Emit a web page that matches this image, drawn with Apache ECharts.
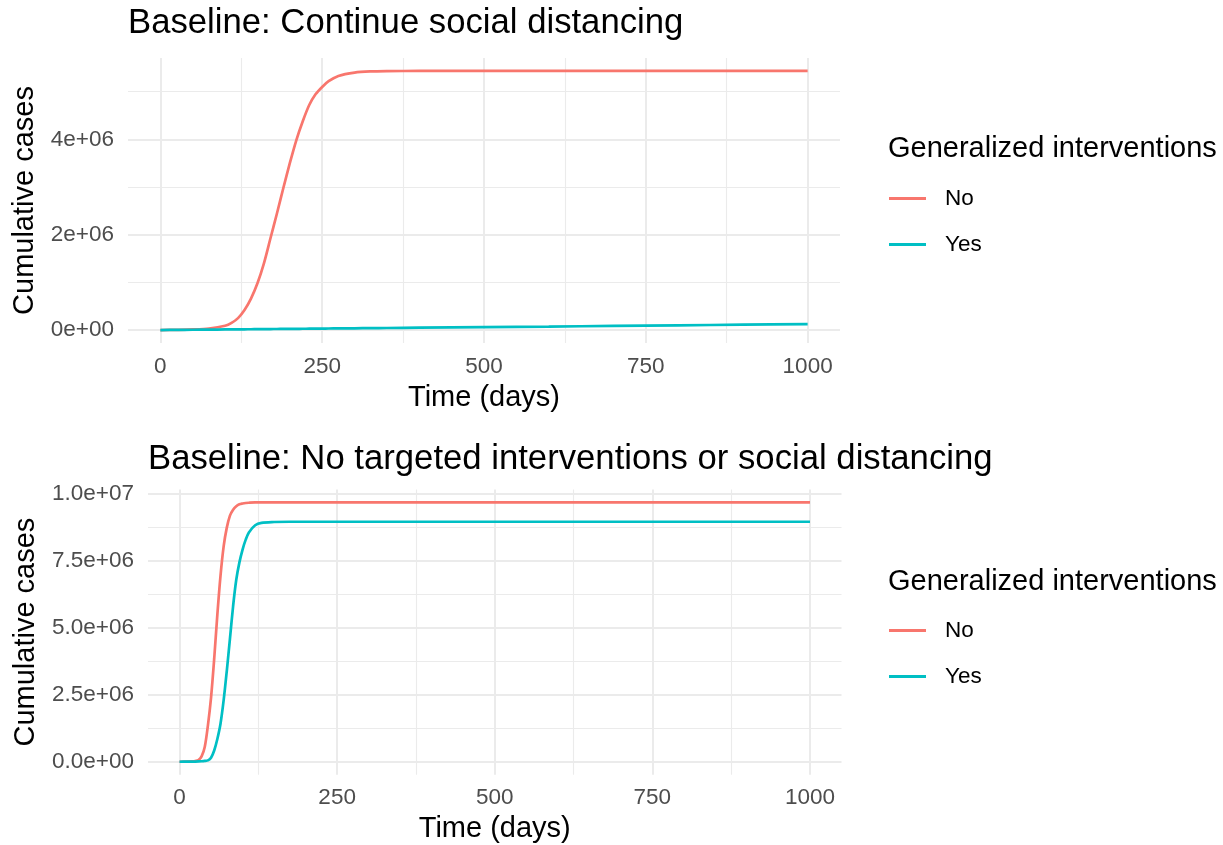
<!DOCTYPE html>
<html><head><meta charset="utf-8">
<script src="https://cdn.jsdelivr.net/npm/echarts@6/dist/echarts.min.js"></script>
<style>html,body{margin:0;padding:0;background:#fff}#c{width:1223px;height:845px}</style>
</head><body><div id="c"></div>
<script>
const FONT = '"Liberation Sans", Arial, Helvetica, sans-serif';
const panelTitles = ['Baseline: Continue social distancing', 'Baseline: No targeted interventions or social distancing'];
const legendTitle = 'Generalized interventions';
const xTitle = 'Time (days)';
const yTitle = 'Cumulative cases';
const groups = ['No', 'Yes'];
const colors = ['#F8766D', '#00BFC4'];

const xTicks = [0, 250, 500, 750, 1000];
const xTickLabels = ['0', '250', '500', '750', '1000'];
const xMinorTicks = [125, 375, 625, 875];

const topYTicks = [0, 2e6, 4e6];
const topYTickLabels = ['0e+00', '2e+06', '4e+06'];
const topYMinorTicks = [1e6, 3e6, 5e6];

const botYTicks = [0, 2.5e6, 5e6, 7.5e6, 1e7];
const botYTickLabels = ['0.0e+00', '2.5e+06', '5.0e+06', '7.5e+06', '1.0e+07'];
const botYMinorTicks = [1.25e6, 3.75e6, 6.25e6, 8.75e6];

// Panel 1: Continue social distancing (values in millions of cases)
const topDays = [0, 25, 50, 75, 100, 110, 120, 130, 140, 150, 160, 170, 180, 190, 200, 210, 220, 230, 240, 250, 260, 275, 300, 325, 350, 400, 500, 600, 700, 800, 900, 1000];
const topNoMillions = [0.0, 0.004, 0.012, 0.032, 0.09, 0.15, 0.25, 0.42, 0.66, 0.98, 1.40, 1.92, 2.44, 2.98, 3.50, 3.98, 4.38, 4.72, 4.95, 5.10, 5.22, 5.33, 5.40, 5.425, 5.432, 5.435, 5.435, 5.435, 5.435, 5.435, 5.435, 5.435];
const topYesMillions = [0.0, 0.003, 0.006, 0.009, 0.012, 0.013, 0.014, 0.016, 0.017, 0.018, 0.019, 0.021, 0.022, 0.023, 0.024, 0.026, 0.027, 0.028, 0.029, 0.031, 0.032, 0.034, 0.037, 0.040, 0.043, 0.049, 0.061, 0.073, 0.086, 0.099, 0.112, 0.126];

// Panel 2: No targeted interventions or social distancing (millions)
const botDays = [0, 10, 20, 25, 30, 35, 40, 45, 50, 55, 60, 65, 70, 75, 80, 85, 90, 95, 100, 105, 110, 120, 130, 150, 175, 200, 300, 400, 500, 600, 700, 800, 900, 1000];
const botNoMillions = [0, 0.002, 0.01, 0.025, 0.06, 0.2, 0.55, 1.35, 2.4, 3.85, 5.5, 6.95, 8.05, 8.75, 9.2, 9.42, 9.55, 9.62, 9.65, 9.67, 9.68, 9.69, 9.69, 9.69, 9.69, 9.69, 9.69, 9.69, 9.69, 9.69, 9.69, 9.69, 9.69, 9.69];
const botYesMillions = [0, 0.001, 0.003, 0.005, 0.01, 0.018, 0.03, 0.05, 0.15, 0.42, 0.85, 1.42, 2.3, 3.4, 4.6, 5.82, 6.8, 7.45, 7.93, 8.3, 8.57, 8.84, 8.93, 8.96, 8.97, 8.97, 8.97, 8.97, 8.97, 8.97, 8.97, 8.97, 8.97, 8.97];

function pairs(days, vals) { return days.map((d, i) => [d, vals[i] * 1e6]); }
function expand(arrs) {
  let lo = Infinity, hi = -Infinity;
  arrs.forEach(a => a.forEach(v => { lo = Math.min(lo, v); hi = Math.max(hi, v); }));
  const p = (hi - lo) * 0.05; return [lo - p, hi + p];
}
function labelFor(ticks, labels) {
  return v => { let best = 0; ticks.forEach((t, i) => { if (Math.abs(t - v) < Math.abs(ticks[best] - v)) best = i; }); return labels[best]; };
}

const xr1 = expand([topDays]);
const xr2 = expand([botDays]);
const yr1 = expand([topNoMillions.map(v => v * 1e6), topYesMillions.map(v => v * 1e6)]);
const yr2 = expand([botNoMillions.map(v => v * 1e6), botYesMillions.map(v => v * 1e6)]);

const GRID = '#EBEBEB';
const tickColor = '#4D4D4D';

function xMajor(g, r) {
  return { type: 'value', gridIndex: g, min: r[0], max: r[1], position: 'bottom',
    name: xTitle, nameLocation: 'middle', nameGap: 40,
    nameTextStyle: { fontSize: 29, color: '#000', fontFamily: FONT },
    axisLine: { show: false }, axisTick: { show: false, customValues: xTicks },
    axisLabel: { customValues: xTicks, formatter: labelFor(xTicks, xTickLabels), fontSize: 22.5, color: tickColor, fontFamily: FONT, margin: 12 },
    splitLine: { show: true, lineStyle: { color: GRID, width: 2 } } };
}
function xMinor(g, r) {
  return { type: 'value', gridIndex: g, min: r[0], max: r[1], position: 'top',
    axisLine: { show: false }, axisTick: { show: false, customValues: xMinorTicks },
    axisLabel: { show: false, customValues: xMinorTicks },
    splitLine: { show: true, lineStyle: { color: GRID, width: 1.1 } } };
}
function yMajor(g, r, ticks, labels, gap) {
  return { type: 'value', gridIndex: g, min: r[0], max: r[1], position: 'left',
    name: yTitle, nameLocation: 'middle', nameGap: gap,
    nameTextStyle: { fontSize: 29, color: '#000', fontFamily: FONT },
    axisLine: { show: false }, axisTick: { show: false, customValues: ticks },
    axisLabel: { customValues: ticks, formatter: labelFor(ticks, labels), fontSize: 22.5, color: tickColor, fontFamily: FONT, margin: 14 },
    splitLine: { show: true, lineStyle: { color: GRID, width: 2 } } };
}
function yMinor(g, r, ticks) {
  return { type: 'value', gridIndex: g, min: r[0], max: r[1], position: 'right',
    axisLine: { show: false }, axisTick: { show: false, customValues: ticks },
    axisLabel: { show: false, customValues: ticks },
    splitLine: { show: true, lineStyle: { color: GRID, width: 1.1 } } };
}
function line(name, color, xi, yi, data) {
  return { type: 'line', name, xAxisIndex: xi, yAxisIndex: yi, data, symbol: 'none', showSymbol: false,
    smooth: 0.3, lineStyle: { color, width: 2.7 }, itemStyle: { color }, z: 5 };
}
function legend(top) {
  return { orient: 'vertical', left: 889, top, padding: 0, itemWidth: 37, itemHeight: 3, icon: 'rect',
    itemGap: 23, selectedMode: false, data: groups,
    textStyle: { fontSize: 22.5, lineHeight: 23, color: '#000', fontFamily: FONT, padding: [0, 0, 0, 14] } };
}

const chart = echarts.init(document.getElementById('c'), null, { renderer: 'canvas' });
chart.setOption({
  animation: false,
  backgroundColor: '#fff',
  textStyle: { fontFamily: FONT },
  title: [
    { text: panelTitles[0], left: 128, top: 6, padding: 0, textStyle: { fontSize: 34.7, fontWeight: 'normal', color: '#000', fontFamily: FONT } },
    { text: panelTitles[1], left: 148, top: 442, padding: 0, textStyle: { fontSize: 34.7, fontWeight: 'normal', color: '#000', fontFamily: FONT } },
    { text: legendTitle, left: 888, top: 134, padding: 0, textStyle: { fontSize: 29, fontWeight: 'normal', color: '#000', fontFamily: FONT } },
    { text: legendTitle, left: 888, top: 567, padding: 0, textStyle: { fontSize: 29, fontWeight: 'normal', color: '#000', fontFamily: FONT } }
  ],
  legend: [legend(187), legend(619)],
  grid: [
    { left: 128, right: 383, top: 58, height: 285 },
    { left: 148, right: 381.5, top: 489.5, height: 285.2 }
  ],
  xAxis: [xMajor(0, xr1), xMinor(0, xr1), xMajor(1, xr2), xMinor(1, xr2)],
  yAxis: [yMajor(0, yr1, topYTicks, topYTickLabels, 88), yMinor(0, yr1, topYMinorTicks),
          yMajor(1, yr2, botYTicks, botYTickLabels, 108), yMinor(1, yr2, botYMinorTicks)],
  series: [
    line(groups[0], colors[0], 0, 0, pairs(topDays, topNoMillions)),
    line(groups[1], colors[1], 0, 0, pairs(topDays, topYesMillions)),
    line(groups[0], colors[0], 2, 2, pairs(botDays, botNoMillions)),
    line(groups[1], colors[1], 2, 2, pairs(botDays, botYesMillions))
  ]
});
</script>
</body></html>
